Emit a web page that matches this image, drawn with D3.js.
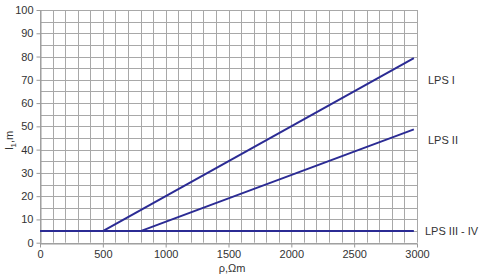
<!DOCTYPE html>
<html>
<head>
<meta charset="utf-8">
<script src="https://cdn.jsdelivr.net/npm/d3@7"></script>
<style>
  body { margin: 0; background: #fff; }
  text { font-family: "Liberation Sans", Arial, sans-serif; fill: #333; }
</style>
</head>
<body>
<script>
// values
const xTicks = [0, 500, 1000, 1500, 2000, 2500, 3000];
const yTicks = [0, 10, 20, 30, 40, 50, 60, 70, 80, 90, 100];
const seriesNames = ['LPS I', 'LPS II', 'LPS III - IV'];
const lpsI = [{x: 500, y: 5}, {x: 2975, y: 79.3}];
const lpsII = [{x: 800, y: 5}, {x: 2975, y: 48.7}];
const lpsIII = [{x: 0, y: 5}, {x: 2975, y: 5}];
const labelValues = [70, 44, 5];

const width = 500;
const height = 278;
const margin = {top: 10, right: 83, bottom: 35.3, left: 40};

const svg = d3.select('body')
  .append('svg')
  .attr('width', width)
  .attr('height', height);

const x = d3.scaleLinear()
  .domain([0, 3000])
  .range([margin.left, width - margin.right]);

const y = d3.scaleLinear()
  .domain([0, 100])
  .range([height - margin.bottom, margin.top]);

// grid
const grid = svg.append('g');

grid.selectAll('line.v')
  .data(d3.range(0, 3001, 100))
  .join('line')
  .attr('class', 'v')
  .attr('x1', (d) => Math.round(x(d)) + 0.5)
  .attr('x2', (d) => Math.round(x(d)) + 0.5)
  .attr('y1', y(100))
  .attr('y2', y(0))
  .attr('stroke', '#a8a8a8');

grid.selectAll('line.h')
  .data(d3.range(0, 101, 5))
  .join('line')
  .attr('class', 'h')
  .attr('x1', x(0))
  .attr('x2', x(3000))
  .attr('y1', (d) => Math.round(y(d)) + 0.5)
  .attr('y2', (d) => Math.round(y(d)) + 0.5)
  .attr('stroke', '#a8a8a8');

// axes
const ejeX = svg.append('g')
  .attr('transform', `translate(0, ${Math.round(y(0)) + 0.5})`)
  .call(d3.axisBottom(x).tickValues(xTicks).tickFormat(d3.format('d'))
    .tickSize(4).tickSizeOuter(0).tickPadding(3));

const ejeY = svg.append('g')
  .attr('transform', `translate(${Math.round(x(0)) + 0.5}, 0)`)
  .call(d3.axisLeft(y).tickValues(yTicks).tickFormat(d3.format('d'))
    .tickSize(4).tickSizeOuter(0).tickPadding(3));

[ejeX, ejeY].forEach((g) => {
  g.select('.domain').attr('stroke', '#999');
  g.selectAll('line').attr('stroke', '#999');
  g.selectAll('text')
    .attr('font-size', 11)
    .attr('fill', '#333')
    .style('font-family', '"Liberation Sans", Arial, sans-serif');
});

// lines
const line = d3.line()
  .x((d) => x(d.x))
  .y((d) => y(d.y));

svg.selectAll('path.serie')
  .data([lpsI, lpsII, lpsIII])
  .join('path')
  .attr('class', 'serie')
  .attr('d', line)
  .attr('fill', 'none')
  .attr('stroke', '#2b2b94')
  .attr('stroke-width', 2);

// series labels
svg.selectAll('text.lbl')
  .data(seriesNames)
  .join('text')
  .attr('class', 'lbl')
  .attr('x', (d, i) => i === 2 ? 425 : 428)
  .attr('y', (d, i) => y(labelValues[i]))
  .attr('dy', '0.35em')
  .attr('font-size', 11)
  .text((d) => d);

// axis titles
svg.append('text')
  .attr('x', 232)
  .attr('y', 272)
  .attr('text-anchor', 'middle')
  .attr('font-size', 11)
  .text('ρ,Ωm');

const yTitle = svg.append('text')
  .attr('transform', `translate(13, ${y(44)}) rotate(-90)`)
  .attr('text-anchor', 'middle')
  .attr('font-size', 11);

yTitle.append('tspan').text('l');
yTitle.append('tspan').attr('font-size', 8).attr('dy', 3).text('1');
yTitle.append('tspan').attr('dy', -3).text(',m');
</script>
</body>
</html>
